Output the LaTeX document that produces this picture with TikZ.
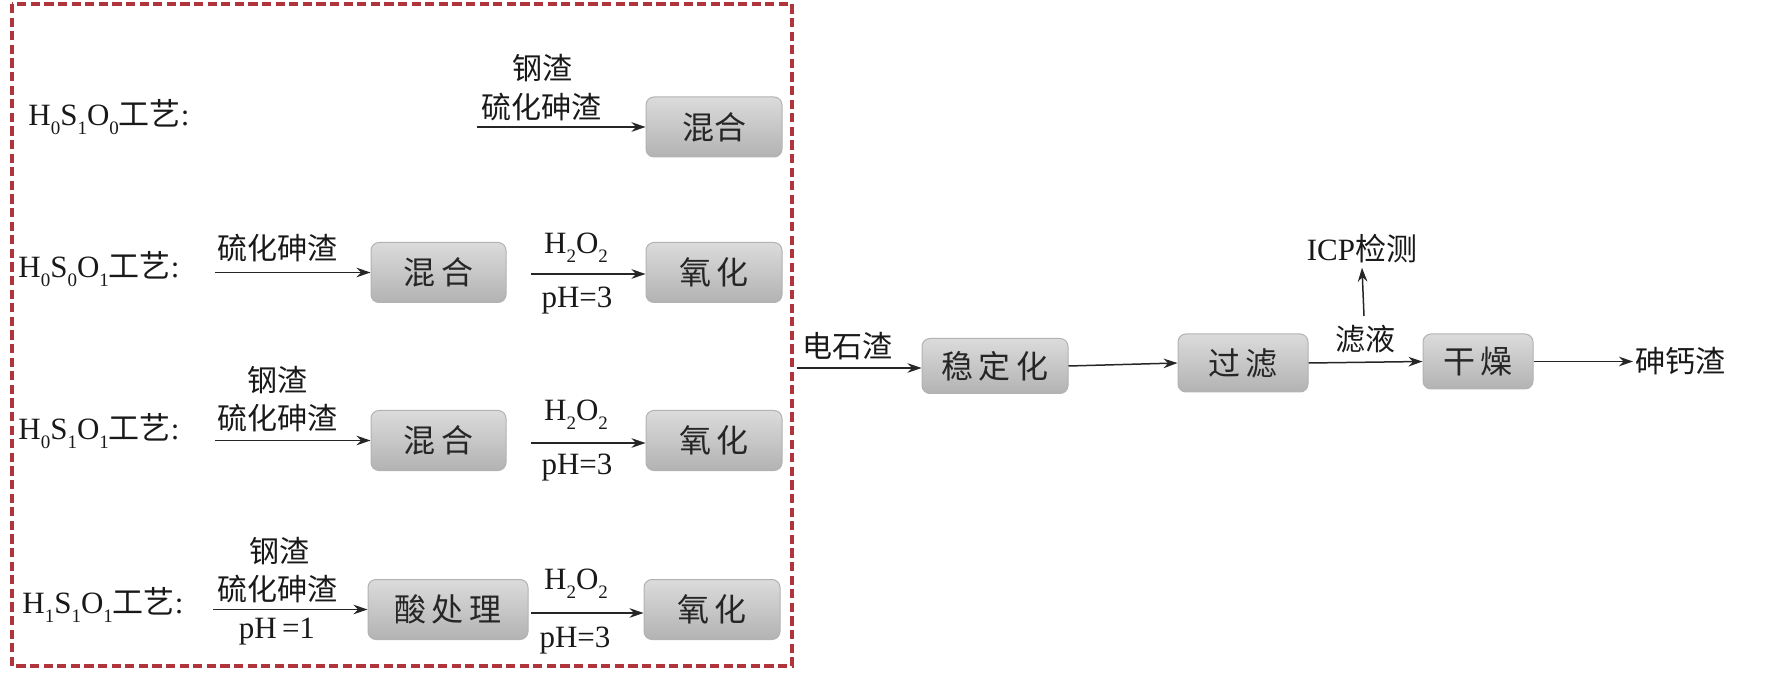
\documentclass[tikz,border=0pt]{standalone}
\usepackage{fontspec}
\setmainfont{Liberation Serif}
\newfontfamily\cjk{Noto Sans CJK SC}
\usetikzlibrary{arrows.meta}
\definecolor{boxred}{HTML}{B0343C}
\tikzset{
  procbox/.style={draw=black!30, line width=0.5pt, rounded corners=4pt,
    top color=black!14, bottom color=black!30, inner sep=0pt,
    minimum height=30pt, text=black!85, font=\cjk\fontsize{16}{16}\selectfont},
  lbl/.style={inner sep=1pt, font=\fontsize{15.5}{16}\selectfont, text=black!90},
  clbl/.style={inner sep=1pt, font=\cjk\fontsize{15}{16}\selectfont, text=black!90},
  flow/.style={line width=0.75pt, draw=black!85, -{Stealth[length=7pt,width=4.8pt]}},
}
\newcommand{\sbx}[1]{\raisebox{-4.5pt}{\fontsize{9.5}{10}\selectfont #1}}
\begin{document}
\begin{tikzpicture}[x=0.5pt,y=-0.5pt]
\useasboundingbox (0,0) rectangle (1772,673);
% dashed frame
\draw[boxred, line width=1.9pt, dash pattern=on 4.6pt off 2.2pt] (12,4) rectangle (792,666);

% row labels
\node[lbl, anchor=west] (r1) at (26,117) {H\sbx{0}S\sbx{1}O\sbx{0}{\cjk 工艺}:};
\node[lbl, anchor=west] (r2) at (16,269) {H\sbx{0}S\sbx{0}O\sbx{1}{\cjk 工艺}:};
\node[lbl, anchor=west] (r3) at (16,431) {H\sbx{0}S\sbx{1}O\sbx{1}{\cjk 工艺}:};
\node[lbl, anchor=west] (r4) at (20,605) {H\sbx{1}S\sbx{1}O\sbx{1}{\cjk 工艺}:};

% row 1
\node[procbox, minimum width=68pt] (m1) at (714,127) {混合};
\coordinate (s1) at (477,127);
\draw[flow] (s1) -- (m1);
\node[clbl] (t1a) at (542,68) {钢渣};
\node[clbl] (t1b) at (541,107) {硫化砷渣};

% row 2
\node[procbox, minimum width=67.5pt] (m2) at (438.5,272.5) {混\,合};
\node[procbox, minimum width=68pt] (o2) at (714,272.5) {氧\,化};
\coordinate (s2) at (215,272.5);
\coordinate (a2) at (531,274);
\draw[flow] (s2) -- (m2);
\draw[flow] (a2) -- (a2 -| o2.west);
\node[clbl] (t2a) at (277,248) {硫化砷渣};
\node[lbl] (h2) at (576,248) {H\sbx{2}O\sbx{2}};
\node[lbl] (p2) at (577,301) {pH=3};

% row 3
\node[procbox, minimum width=67.5pt] (m3) at (438.5,440.5) {混\,合};
\node[procbox, minimum width=68pt] (o3) at (714,440.5) {氧\,化};
\coordinate (s3) at (215,440.5);
\coordinate (a3) at (531,443);
\draw[flow] (s3) -- (m3);
\draw[flow] (a3) -- (a3 -| o3.west);
\node[clbl] (t3a) at (277,380) {钢渣};
\node[clbl] (t3b) at (277,418) {硫化砷渣};
\node[lbl] (h3) at (576,415) {H\sbx{2}O\sbx{2}};
\node[lbl] (p3) at (577,468) {pH=3};

% row 4
\node[procbox, minimum width=80pt] (m4) at (448,609.5) {酸\,处\,理};
\node[procbox, minimum width=68pt] (o4) at (712,609.5) {氧\,化};
\coordinate (s4) at (213,609.5);
\coordinate (a4) at (531,613);
\draw[flow] (s4) -- (m4);
\draw[flow] (a4) -- (a4 -| o4.west);
\node[clbl] (t4a) at (279,551) {钢渣};
\node[clbl] (t4b) at (277,589) {硫化砷渣};
\node[lbl] (p4) at (277,632) {pH\,=1};
\node[lbl] (h4) at (576,584) {H\sbx{2}O\sbx{2}};
\node[lbl] (p4b) at (575,641) {pH=3};

% right part
\node[procbox, minimum width=73pt, minimum height=27.5pt] (wd) at (995,366) {稳\,定\,化};
\node[procbox, minimum width=65pt, minimum height=29pt] (gl) at (1243,363) {过\,滤};
\node[procbox, minimum width=55pt, minimum height=27.5pt] (gz) at (1478,361.5) {干\,燥};
\coordinate (s5) at (797,368);
\draw[flow] (s5) -- (s5 -| wd.west);
\node[clbl, anchor=west] (dsz) at (800,346) {电石渣};
\draw[flow] (wd.east) -- (gl.west);
\draw[flow] (gl.east) -- (gz.west);
\node[clbl] (ly) at (1365,339) {滤液};
\coordinate (v) at (1364,316);
\node[lbl, inner sep=2pt] (icp) at (1362,249) {ICP{\cjk 检测}};
\draw[flow] (v) -- (icp.south);
\node[clbl, anchor=west] (sgz) at (1633,361.5) {砷钙渣};
\draw[flow] (gz.east) -- (sgz.west);
\end{tikzpicture}
\end{document}
